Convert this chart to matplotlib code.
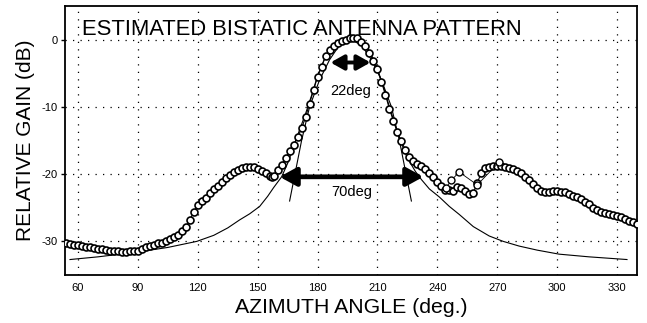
import numpy as np
import matplotlib
matplotlib.use("Agg")
import matplotlib.pyplot as plt

plt.rcParams['font.family'] = ['Liberation Sans', 'DejaVu Sans']
plt.rcParams['axes.unicode_minus'] = False

az = [54, 56, 58, 60, 62, 64, 66, 68, 70, 72, 74, 76, 78, 80, 82, 84, 86, 88,
      90, 92, 94, 96, 98, 100, 102, 104, 106, 108, 110, 112, 114, 116, 118,
      120, 122, 124, 126, 128, 130, 132, 134, 136, 138, 140, 142, 144, 146,
      148, 150, 152, 154, 156, 157, 158, 160, 162, 164, 166, 168, 170, 172,
      174, 176, 178, 180, 182, 184, 186, 188, 190, 192, 194, 196, 198, 200,
      202, 204, 206, 208, 210, 212, 214, 216, 218, 220, 222, 224, 226, 228,
      230, 232, 234, 236, 238, 240, 242, 244, 246, 248, 250, 252, 254, 256,
      258, 260, 262, 264, 266, 268, 270, 272, 274, 276, 278, 280, 282, 284,
      286, 288, 290, 292, 294, 296, 298, 300, 302, 304, 306, 308, 310, 312,
      314, 316, 318, 320, 322, 324, 326, 328, 330, 332, 334, 336, 338, 340]
gain = [-30.2, -30.4, -30.5, -30.5, -30.7, -30.8, -30.9, -31.0, -31.1, -31.2,
        -31.3, -31.4, -31.5, -31.5, -31.6, -31.6, -31.5, -31.5, -31.4, -31.2,
        -30.9, -30.7, -30.5, -30.3, -30.2, -30.0, -29.7, -29.4, -29.0, -28.5,
        -27.9, -26.8, -25.6, -24.6, -24.0, -23.5, -22.8, -22.2, -21.7, -21.1,
        -20.6, -20.1, -19.7, -19.4, -19.1, -18.9, -18.9, -19.0, -19.2, -19.5,
        -19.8, -20.3, -20.5, -20.3, -19.4, -18.6, -17.6, -16.6, -15.6, -14.5,
        -13.2, -11.5, -9.5, -7.5, -5.5, -4.0, -2.5, -1.6, -0.9, -0.5, -0.2,
        0.0, 0.2, 0.3, 0.2, -0.3, -1.0, -2.0, -3.2, -4.4, -6.3, -8.2, -10.3,
        -12.1, -13.8, -15.1, -16.4, -17.5, -18.1, -18.5, -18.8, -19.2, -19.8,
        -20.4, -21.2, -21.8, -22.4, -22.3, -22.5, -21.9, -22.0, -22.5, -23.0,
        -22.8, -21.3, -19.8, -19.1, -18.9, -18.8, -18.8, -18.8, -19.0, -19.1,
        -19.3, -19.5, -19.9, -20.4, -20.9, -21.4, -22.0, -22.5, -22.7, -22.6,
        -22.5, -22.5, -22.6, -22.7, -22.9, -23.2, -23.4, -23.7, -24.1, -24.5,
        -25.0, -25.4, -25.6, -25.8, -26.0, -26.1, -26.3, -26.4, -26.6, -26.9,
        -27.1, -27.4]

# scattered points around 245-270 deg
out_az = [244.5, 247, 251, 260, 271]
out_gain = [-22.0, -20.9, -19.7, -21.6, -18.2]

# wide model curve
wide_az = [56, 70, 89.5, 105, 119.5, 128, 135, 141, 146, 151, 155, 158, 162,
           165, 168, 171, 174, 177, 180, 184, 189, 194, 197, 200, 205, 209,
           213, 216, 219, 222, 225, 229, 232, 236, 241, 246, 251, 258, 266,
           273, 281, 290, 301, 316, 335]
wide_gain = [-32.7, -32.3, -31.6, -30.9, -30.0, -29.1, -28.0, -26.8, -25.9,
             -24.8, -23.3, -22.0, -20.4, -18.4, -15.9, -13.4, -11.0, -8.3,
             -5.4, -2.5, -0.7, 0.1, 0.3, 0.1, -1.2, -3.5, -7.0, -10.0, -12.8,
             -15.4, -17.6, -19.6, -20.8, -22.2, -23.4, -24.8, -26.0, -27.8,
             -29.2, -30.0, -30.7, -31.3, -31.9, -32.3, -32.7]

# narrow model curve
nar_az = [166, 169, 172, 176, 181, 186, 191, 196.5, 202, 207, 212, 217, 221,
          224, 227]
nar_gain = [-24.0, -19.5, -15.0, -10.0, -6.0, -3.0, -0.8, 0.0, -0.8, -3.0,
            -6.0, -10.0, -15.0, -19.5, -24.0]

fig = plt.figure(figsize=(6.47, 3.23), dpi=100)
ax = fig.add_axes([0.1005, 0.1486, 0.8840, 0.8328])

ax.plot(wide_az, wide_gain, color='black', lw=0.8, zorder=2)
ax.plot(nar_az, nar_gain, color='black', lw=0.8, zorder=2)
ax.plot(az, gain, color='black', lw=0.8, marker='o', ms=5, mfc='white',
        mec='black', mew=1.2, zorder=3)
ax.plot(out_az, out_gain, color='black', lw=0.6, marker='o', ms=5,
        mfc='white', mec='black', mew=1.0, zorder=3)

# beamwidth arrows
ax.annotate('', xy=(186.5, -3.4), xytext=(206.5, -3.4),
            arrowprops=dict(arrowstyle='<|-|>,head_length=0.8,head_width=0.45',
                            color='black', lw=2.8, shrinkA=0, shrinkB=0),
            zorder=5)
ax.text(196.5, -7.6, '22deg', ha='center', va='center', fontsize=10.5, zorder=5)
ax.annotate('', xy=(161, -20.4), xytext=(233, -20.4),
            arrowprops=dict(arrowstyle='<|-|>,head_length=1.0,head_width=0.55',
                            color='black', lw=3.4, shrinkA=0, shrinkB=0),
            zorder=5)
ax.text(197, -22.7, '70deg', ha='center', va='center', fontsize=10.5, zorder=5)

ax.text(0.03, 0.892, 'ESTIMATED BISTATIC ANTENNA PATTERN', transform=ax.transAxes,
        fontsize=15.8, ha='left', va='baseline', zorder=6)

ax.set_xlim(53.5, 340)
ax.set_ylim(-35, 5)
ax.set_xticks(np.arange(60, 331, 30))
ax.set_yticks([0, -10, -20, -30])
ax.tick_params(axis='x', length=0, pad=6, labelsize=8)
ax.tick_params(axis='y', length=3, width=1, direction='out', pad=2, labelsize=8)
ax.grid(True, color='black', linestyle=(0, (1, 5)), linewidth=0.9)
for s in ax.spines.values():
    s.set_linewidth(1.3)

ax.set_xlabel('AZIMUTH ANGLE (deg.)', fontsize=15.3, labelpad=3)
ax.set_ylabel('RELATIVE GAIN (dB)', fontsize=15, labelpad=5)

fig.savefig('out.png', dpi=100)
